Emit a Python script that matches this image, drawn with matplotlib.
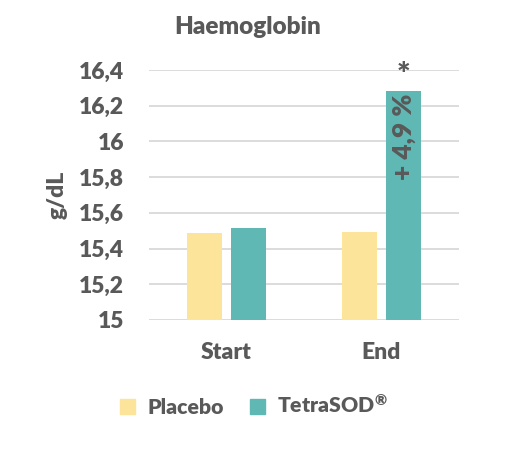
import matplotlib
matplotlib.use("Agg")
import matplotlib.pyplot as plt
import numpy as np
from matplotlib.patches import Patch

categories = ["Start", "End"]
placebo = [15.485, 15.494]
tetrasod = [15.513, 16.28]
series_names = ["Placebo", r"TetraSOD$^{®}$"]
yticks = [15.0, 15.2, 15.4, 15.6, 15.8, 16.0, 16.2, 16.4]
ytick_labels = ["15", "15,2", "15,4", "15,6", "15,8", "16", "16,2", "16,4"]
annotation = "+ 4,9 %"

plt.rcParams['font.family'] = ['Lato', 'DejaVu Sans']
plt.rcParams['mathtext.fontset'] = 'custom'
plt.rcParams['mathtext.rm'] = 'Lato:bold'
plt.rcParams['mathtext.it'] = 'Lato:bold'
plt.rcParams['mathtext.bf'] = 'Lato:bold'
plt.rcParams['mathtext.default'] = 'regular'
txt = '#595959'
c_pl = '#FCE49A'
c_te = '#5FB8B3'
fs = 16.5
fw = 'heavy'

fig = plt.figure(figsize=(5.05, 4.54), dpi=100)
ax = fig.add_axes([149/505, 1-320/454, 310/505, 250/454])

x = np.arange(len(categories))
w = 0.226
off = 0.142
ax.bar(x - off, np.array(placebo) - 15, w, bottom=15, color=c_pl, zorder=3)
ax.bar(x + off, np.array(tetrasod) - 15, w, bottom=15, color=c_te, zorder=3)

ax.set_xlim(-0.5, 1.5)
ax.set_ylim(15, 16.4)
ax.set_yticks(yticks)
ax.set_yticklabels(ytick_labels)
ax.set_xticks(x)
ax.set_xticklabels(categories)
ax.grid(axis='y', color='#D9D9D9', linewidth=1.3, zorder=0)
for s in ax.spines.values():
    s.set_visible(False)
ax.tick_params(axis='both', length=0, labelsize=fs, labelcolor=txt)
ax.tick_params(axis='y', pad=18)
ax.tick_params(axis='x', pad=16)
for lab in ax.get_xticklabels() + ax.get_yticklabels():
    lab.set_fontweight(fw)

ax.set_ylabel("g/dL", fontsize=fs, fontweight=fw, color=txt, labelpad=8)

fig.text(248/505, 1-27/454, "Haemoglobin", ha='center', va='center',
         fontsize=17.5, fontweight=fw, color=txt)

# annotation inside bar
ax.text(1 + off, tetrasod[1] - 0.012, annotation, rotation=90, ha='center', va='top',
        fontsize=19, fontweight=fw, color=txt, zorder=4)
ax.text(1 + off, 16.37, "*", ha='center', va='center', fontsize=23,
        fontweight=fw, color=txt, zorder=4)

handles = [Patch(color=c_pl), Patch(color=c_te)]
leg = fig.legend(handles, series_names, loc='center', bbox_to_anchor=(254/505, 1-405/454),
                 ncol=2, frameon=False, handlelength=0.7, handleheight=0.7,
                 handletextpad=0.6, columnspacing=1.2, fontsize=15.3)
for t in leg.get_texts():
    t.set_color(txt)
    t.set_fontweight(fw)

fig.savefig("out.png", dpi=100)
